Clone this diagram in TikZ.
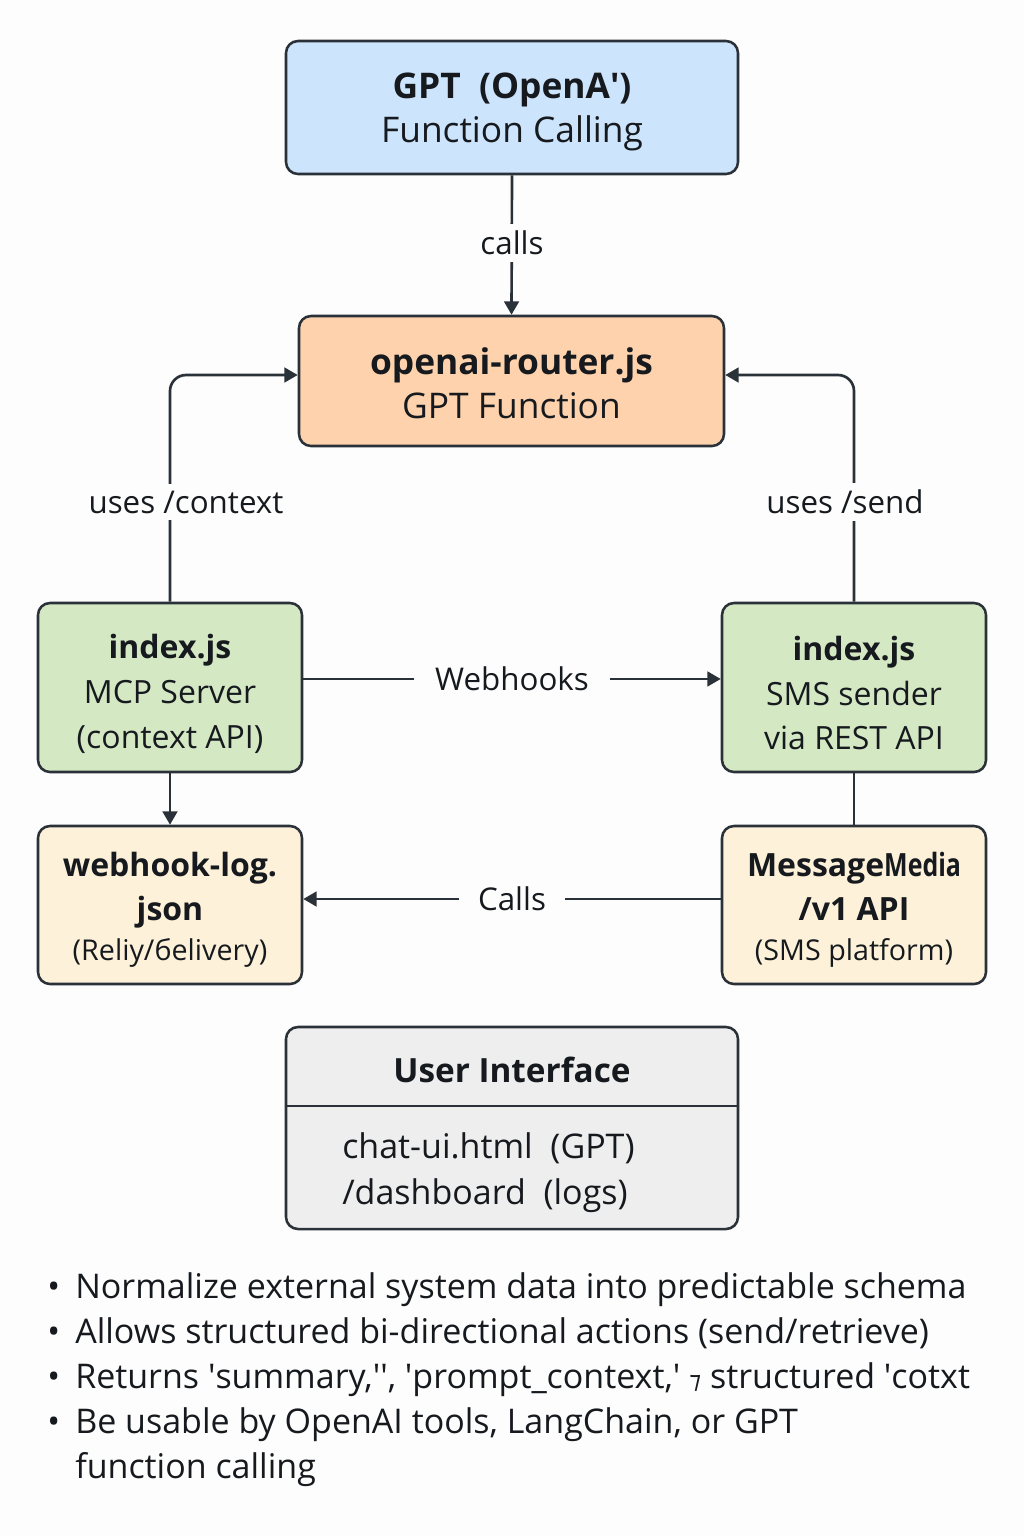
\documentclass[tikz,border=0pt]{standalone}
\usepackage{fontspec}
\setmainfont{Open Sans}
\newfontfamily\djv{DejaVu Sans}
\usetikzlibrary{arrows.meta}
\newcommand{\aq}{\textquotesingle}
\definecolor{bord}{HTML}{2B3138}
\definecolor{txt}{HTML}{161A1E}
\definecolor{cblue}{HTML}{CCE4FC}
\definecolor{cpeach}{HTML}{FDD2AC}
\definecolor{cgreen}{HTML}{D4E8C4}
\definecolor{ccream}{HTML}{FDF2D9}
\definecolor{cgrey}{HTML}{EEEEEE}
\definecolor{bg}{HTML}{FDFDFD}
\tikzset{
  box/.style={draw=bord, line width=1.9pt, rounded corners=9pt, inner sep=0pt},
  btext/.style={align=center, text=txt, inner sep=0pt},
  big/.style={btext, font=\fontsize{26.5}{33}\selectfont},
  mid/.style={btext, font=\fontsize{24}{33.5}\selectfont},
  conn/.style={draw=bord, line width=2pt},
  arr/.style={conn, -{Triangle[length=10pt,width=11pt]}},
  lbl/.style={fill=bg, text=txt, font=\fontsize{23.5}{26}\selectfont, inner sep=5pt},
  bul/.style={text=txt, font=\fontsize{25.5}{28}\selectfont, anchor=base west, inner sep=0pt}
}
\begin{document}
\begin{tikzpicture}[x=0.75pt,y=-0.75pt]
\fill[bg] (0,0) rectangle (1024,1536);
\useasboundingbox (0,0) rectangle (1024,1536);

% boxes
\node[box, fill=cblue, minimum width=339pt, minimum height=99.75pt] (gpt) at (512,107.5) {};
\node[big] (gpttxt) at (512,112) {\textbf{GPT\ \ (OpenA\aq)}\\Function Calling};

\node[box, fill=cpeach, minimum width=318.75pt, minimum height=97.5pt] (router) at (511.5,381) {};
\node[big] (routertxt) at (511.5,383) {\textbf{openai-router.js}\\GPT Function};

\node[box, fill=cgreen, minimum width=198pt, minimum height=126.75pt] (idxl) at (170,687.5) {};
\node[mid] (idxltxt) at (170,694) {\textbf{index.js}\\MCP Server\\(context API)};

\node[box, fill=cgreen, minimum width=198pt, minimum height=126.75pt] (idxr) at (854,687.5) {};
\node[mid] (idxrtxt) at (854,693) {\textbf{index.js}\\SMS sender\\via REST API};

\node[box, fill=ccream, minimum width=198pt, minimum height=118.5pt] (log) at (170,905) {};
\node[btext, font=\fontsize{24}{33}\selectfont] (logtxt) at (170,910)
  {\textbf{webhook-log.}\\\textbf{json}\\[-3pt]{\fontsize{21.5}{24}\selectfont(Reliy/бelivery)}};

\node[box, fill=ccream, minimum width=198pt, minimum height=118.5pt] (mm) at (854,905) {};
\node[btext, font=\fontsize{24}{33}\selectfont] (mmtxt) at (854,910)
  {\textbf{Message\scalebox{0.78}[1]{Media}}\\\textbf{/v1 API}\\[-3pt]{\fontsize{21.5}{24}\selectfont(SMS platform)}};

\node[box, fill=cgrey, minimum width=339pt, minimum height=151.5pt] (ui) at (512,1128) {};
\draw[bord, line width=1.9pt] ([yshift=16.5pt]ui.west) -- ([yshift=16.5pt]ui.east);
\node[text=txt, font=\fontsize{25}{33}\selectfont\bfseries] (uititle) at (512,1070) {User Interface};
\node[text=txt, font=\fontsize{25.5}{34.5}\selectfont, align=left, anchor=west, inner sep=0pt] (uibody) at (342,1173)
  {chat-ui.html\ \ (GPT)\\/dashboard\ \ (logs)};

% connectors
\draw[arr] (gpt.south) -- (router.north);
\node[lbl] (lcalls) at (512,243) {calls};

\draw[arr, rounded corners=12pt] (idxl.north) |- ([yshift=4.5pt]router.west);
\node[lbl] (lctx) at (186,502) {uses /context};
\draw[arr, rounded corners=12pt] (idxr.north) |- ([yshift=4.5pt]router.east);
\node[lbl] (lsend) at (845,502) {uses /send};

\draw[arr] ([yshift=6.4pt]idxl.east) -- ([yshift=6.4pt]idxr.west);
\node[lbl, inner sep=16pt, inner ysep=5pt] (lweb) at (512,679) {Webhooks};

\draw[arr] (idxl.south) -- (log.north);
\draw[conn] (idxr.south) -- (mm.north);

\draw[arr] ([yshift=4.5pt]mm.west) -- ([yshift=4.5pt]log.east);
\node[lbl, inner sep=14pt, inner ysep=5pt] (lcalls2) at (512,899) {Calls};

% bullets
\foreach \y/\t [count=\i] in {1298/{Normalize external system data into predictable schema},
  1343/{Allows structured bi-directional actions (send/retrieve)},
  1388/{Returns \aq summary,\aq\aq, \aq prompt\_context,\aq\ {\djv\fontsize{18}{20}\selectfont ⁊} structured \aq cotxt},
  1433/{Be usable by OpenAI tools, LangChain, or GPT}} {
  \node[bul] (b\i) at (47,\y) {•};
  \node[bul] (t\i) at (75,\y) {\t};
}
\node[bul] (t5) at (75,1478) {function calling};
\end{tikzpicture}
\end{document}
